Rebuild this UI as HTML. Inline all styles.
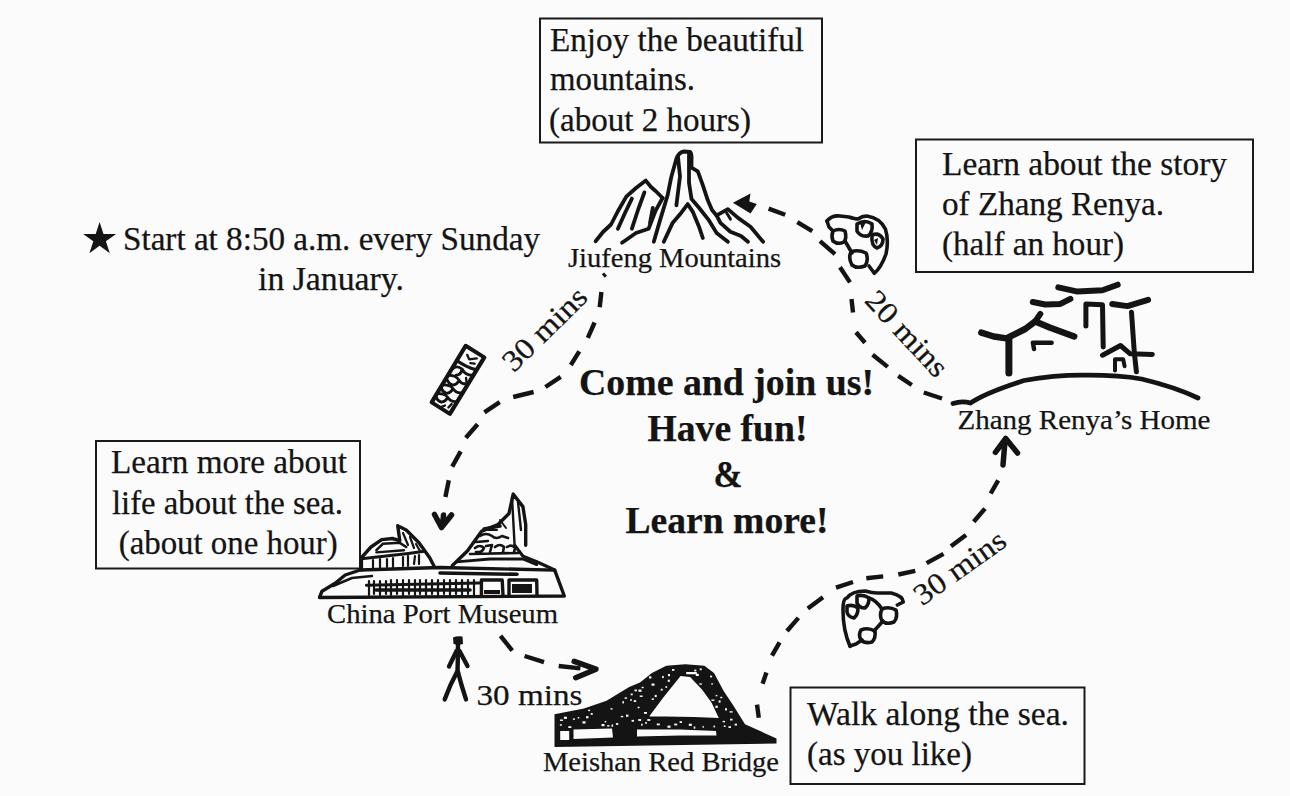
<!DOCTYPE html>
<html>
<head>
<meta charset="utf-8">
<style>
html,body{margin:0;padding:0;background:#fbfbfb;}
body{width:1290px;height:796px;overflow:hidden;position:relative;}
svg{position:absolute;left:0;top:0;display:block;}
text{font-family:"Liberation Serif",serif;fill:#141414;stroke:#141414;stroke-width:0.25;}
.t{font-size:33px;}
.l{font-size:28px;}
.b{font-size:37.5px;font-weight:bold;}
.box{fill:none;stroke:#1a1a1a;stroke-width:2;}
.ink{fill:none;stroke:#141414;stroke-width:3.2;stroke-linecap:round;stroke-linejoin:round;}
.dash{fill:none;stroke:#141414;stroke-width:4.4;stroke-linecap:butt;}
</style>
</head>
<body>
<svg width="1290" height="796" viewBox="0 0 1290 796">
<!-- Box 1 -->
<rect class="box" x="540" y="18.5" width="282" height="124"/>
<text class="t" x="550" y="51" textLength="254" lengthAdjust="spacingAndGlyphs">Enjoy the beautiful</text>
<text class="t" x="550" y="90" textLength="145" lengthAdjust="spacingAndGlyphs">mountains.</text>
<text class="t" x="549" y="131" textLength="202" lengthAdjust="spacingAndGlyphs">(about 2 hours)</text>

<!-- Box 2 -->
<rect class="box" x="916" y="139.5" width="337" height="132.5"/>
<text class="t" x="942" y="175" textLength="285" lengthAdjust="spacingAndGlyphs">Learn about the story</text>
<text class="t" x="942" y="215" textLength="222" lengthAdjust="spacingAndGlyphs">of Zhang Renya.</text>
<text class="t" x="942" y="255" textLength="182" lengthAdjust="spacingAndGlyphs">(half an hour)</text>

<!-- Start -->
<polygon fill="#141414" points="99.6,221.9 103.5,233.9 116.1,233.9 105.9,241.2 109.8,253.2 99.6,245.8 89.4,253.2 93.3,241.2 83.1,233.9 95.7,233.9"/>
<text class="t" x="123" y="250" textLength="417" lengthAdjust="spacingAndGlyphs">Start at 8:50 a.m. every Sunday</text>
<text class="t" x="258" y="290" textLength="146" lengthAdjust="spacingAndGlyphs">in January.</text>

<!-- Center -->
<text class="b" x="579" y="394.6" textLength="295" lengthAdjust="spacingAndGlyphs">Come and join us!</text>
<text class="b" x="647.5" y="440.8" textLength="160" lengthAdjust="spacingAndGlyphs">Have fun!</text>
<text class="b" x="713.5" y="486.8" textLength="29" lengthAdjust="spacingAndGlyphs">&amp;</text>
<text class="b" x="625.5" y="532.8" textLength="203" lengthAdjust="spacingAndGlyphs">Learn more!</text>

<!-- Labels -->
<text class="l" x="568" y="267" textLength="213" lengthAdjust="spacingAndGlyphs">Jiufeng Mountains</text>
<text class="l" x="957.5" y="429.3" textLength="253" lengthAdjust="spacingAndGlyphs">Zhang Renya’s Home</text>
<text class="l" x="327" y="623" textLength="231" lengthAdjust="spacingAndGlyphs">China Port Museum</text>
<text class="l" x="543" y="770.5" textLength="236" lengthAdjust="spacingAndGlyphs">Meishan Red Bridge</text>

<!-- Box 3 -->
<rect class="box" x="96" y="441" width="264" height="127.5"/>
<text class="t" x="111" y="472.7" textLength="236" lengthAdjust="spacingAndGlyphs">Learn more about</text>
<text class="t" x="112" y="514.3" textLength="231" lengthAdjust="spacingAndGlyphs">life about the sea.</text>
<text class="t" x="118.7" y="553.6" textLength="219" lengthAdjust="spacingAndGlyphs">(about one hour)</text>

<!-- Box 4 -->
<rect class="box" x="790.5" y="687.5" width="294" height="96.5"/>
<text class="t" x="807" y="724.5" textLength="262" lengthAdjust="spacingAndGlyphs">Walk along the sea.</text>
<text class="t" x="807" y="765" textLength="165" lengthAdjust="spacingAndGlyphs">(as you like)</text>

<!-- mins labels -->
<text class="l" x="476.5" y="705" textLength="106" lengthAdjust="spacingAndGlyphs" style="font-size:30px">30 mins</text>
<g transform="translate(544.5,329) rotate(-44.5)"><text class="l" x="-53" y="10" textLength="106" lengthAdjust="spacingAndGlyphs" style="font-size:30px">30 mins</text></g>
<g transform="translate(907,333.5) rotate(47)"><text class="l" x="-53" y="10" textLength="106" lengthAdjust="spacingAndGlyphs" style="font-size:30px">20 mins</text></g>
<g transform="translate(959.5,567.5) rotate(-35.5)"><text class="l" x="-53" y="10" textLength="106" lengthAdjust="spacingAndGlyphs" style="font-size:30px">30 mins</text></g>

<!-- DRAWINGS -->
<!-- Mountains -->
<g class="ink" style="stroke-width:3.8">
<path d="M595.6,241.3 L603,232 L611,224.5 L618,211 L626.3,196.6 L636,188 L645.8,180.6 L651,187 L655.6,191 L662.6,198"/>
<path d="M617.9,228.7 L625,213 L631.9,198.6"/>
<path d="M631.9,228.7 L638,210 L644.4,192.4"/>
<path d="M622,242.7 L636,233 L648.6,228.7 L655.6,210.6 L662.6,198"/>
<path d="M650,223 L652.8,207.8"/>
<path d="M653.8,241.8 L660,220.4 L667.6,195.3 L671.4,176.4 L676.4,158.8 Q679,152 684,151.5 L690.2,151.9 Q692,154 691.5,160 L691.5,167.6 L697.8,171.4 L702.8,185.2 L707.8,200.3 L712,210 L716.6,215.4"/>
<path d="M678,157 L680,176.4 L676.4,205.3"/>
<path d="M689,153 L689,182.7 L691.5,199 L699,207.8 L709,220.4 L716.6,233 L727.9,241.8"/>
<path d="M663.8,241.8 L672.6,222.9 L680.2,214.1 L687.7,204.1 L692.7,211.6 L699,226.7 L702.8,238"/>
<path d="M716.6,215.4 L727.9,209.1 L738,217.9 L750.5,226.7 L763.1,241.8"/>
<path d="M716.6,215.4 L720.4,222.9 L730.4,231.7 L741,236 L748,241.8"/>
<path d="M726.7,212.9 L730.4,219.1" style="stroke-width:3"/>
</g>
<polygon fill="#141414" points="732.9,202.8 750.5,193.5 749.3,201.5 756.8,204.1 750.5,213.5"/>

<!-- Zhang Renya's Home -->
<g class="ink">
<path d="M953,403.5 Q962,400.5 970.5,403 Q985,393 1024,380.5 Q1055,375 1084.5,375.2 Q1119,375 1141.6,379 Q1175,387 1198,398" style="stroke-width:4.8"/>
<path d="M1058.3,287.4 L1077.6,291.6 L1102.5,290.2 L1117.7,284.7" style="stroke-width:6"/>
<path d="M1032.8,302 L1045.3,304.5 L1060.4,303.9 L1070.4,298.8" style="stroke-width:6"/>
<path d="M1112.2,304 L1127.4,306.1 L1148.1,299.9" style="stroke-width:6"/>
<path d="M981.3,332.7 L993.8,336.5 L1006.4,338.4 L1025.2,329 L1035.3,321.4 L1050.3,327.7 L1074.2,336.5" style="stroke-width:6.5"/>
<path d="M1035.3,321.4 L1040.3,313.9" style="stroke-width:6"/>
<path d="M1008.9,339 L1008.9,372.9" style="stroke-width:7"/>
<path d="M1032.8,342.8 L1051.6,342.8 M1033,343 L1034,349" style="stroke-width:4.5"/>
<path d="M1085.9,326.1 L1085.9,304 L1102.5,304.7 L1103.2,346.9" style="stroke-width:5"/>
<path d="M1131.5,312.3 L1134.3,352.4 L1136.4,371.7" style="stroke-width:5"/>
<path d="M1102.5,355.2 L1120.5,345.5 L1130.2,353.8 L1152.3,354.5" style="stroke-width:5"/>
<path d="M1115,370.4 L1115,359.3 L1123.2,359.3 L1124.6,366.2" style="stroke-width:4"/>
</g>

<!-- China Port Museum -->
<g class="ink" style="stroke-width:3.4">
<path d="M319.5,597.5 L322,591.2 L335.2,583.2 L345.2,575 L360.3,570 L440,567.5 L554.7,570.1 L564.3,596 L319.5,597.5 Z"/>
<path d="M333,586 L352,578 L372,576" style="stroke-width:2.5"/>
<path d="M361.4,570 L361.4,557.7 L371,547 L381.7,539.6 L392.4,538.5 L399.8,540.6 L397.7,525.7 L406.2,530 L419,542.8 L429.7,557.7 L434,566"/>
<path d="M361.4,558.8 L408.4,553.4 L424.4,551.3" style="stroke-width:3"/>
<path d="M376.4,550.2 L382.8,543.8 L399.8,542.8 L406.2,547" style="stroke-width:2.6"/>
<path d="M376.4,552.4 L404,550.2" style="stroke-width:2.4"/>
<path d="M403,533 L408,545 M410,537 L414,548 M416,544 L420,551" style="stroke-width:2.2"/>
<path d="M373,560 L373,568 M380,559 L380,568 M387,559 L387,567 M393,558 L393,567 M403,557 L403,566 M408,556 L408,566 M415,556 L414,564 M419,555 L419,564" style="stroke-width:2.2"/>
<path d="M452.4,565.5 L467.6,550.8 L481.4,531.4 L498,524.5 L509,513.5 L513.2,494.1 L522.9,506.6 L525.7,524.5 L525.7,545.3"/>
<path d="M512,497 L514.6,545.3 M518,502 L521,530" style="stroke-width:2.4"/>
<path d="M514.6,545.3 L523,556.3 L536.7,561.8 L554.7,570" style="stroke-width:3.2"/>
<path d="M456.6,561.8 L490,559 L522.9,559 L536.7,564.6" style="stroke-width:2.8"/>
<path d="M480,536 Q486,532 492,536 Q496,540 502,536 L508,538 M476,542 L488,541 M475,548 Q480,544 484,548 Q482,553 476,552 M486,546 L492,545 L490,552 M495,547 Q500,543 504,547 L503,552 M507,547 Q512,544 515,548 L514,552 M470,554 L518,553" style="stroke-width:2.6"/>
<path d="M484,529 L500,526" style="stroke-width:3.6"/>
<path d="M488,530 L497,530 M500,520 L506,528" style="stroke-width:2"/>
<path d="M440,573 L517,574.3" style="stroke-width:3.6"/>
<path d="M366.4,585.2 L479,583" style="stroke-width:3"/>
<path d="M369,581 L369,595 M374,581 L374,594 M380,581 L380,595 M386,581 L386,594 M391,580 L391,595 M397,580 L397,594 M403,580 L403,595 M409,580 L409,594 M415,580 L415,595 M420,580 L420,594 M426,580 L426,595 M432,580 L432,594 M438,580 L438,595 M444,580 L444,594 M450,580 L450,595 M456,580 L456,594 M462,580 L462,595 M468,580 L468,594 M474,580 L474,595" style="stroke-width:2.2"/>
<path d="M376,590 L470,590" style="stroke-width:3.6"/>
<path d="M481.4,595 L481.4,580 L502.2,580 L503,595 M509,595 L509,580 L536.7,580 L537,595" style="stroke-width:3.4"/>
</g>
<rect x="512" y="584" width="20" height="9" fill="#141414"/>
<rect x="484" y="590" width="16" height="4" fill="#141414"/>
<!-- Meishan Red Bridge -->
<path fill="#141414" d="M554.5,714.3 L584,708.6 L606.5,700.7 L629.2,687.1 L640,682.4 L651.9,672.9 L666.3,665.7 L685.3,664.3 L704.4,665.7 L714,672.9 L723.5,690.8 L733,705.1 L745,724.2 L776.5,738.5 L776.5,743.5 L554.5,747 Z"/>
<path fill="#fbfbfb" d="M649.5,716 L663.9,696.8 L680.6,676 L690.1,677 L702,689.6 L711.6,702.7 L718.8,718 Q690,716 650,716.5 Z"/>
<g fill="#fbfbfb">
<path d="M573.5,729.5 L612,728.5 L613,737.5 L573.5,739 Z"/>
<path d="M637,729.5 L680,729.5 L716,731 L716.5,735.5 L680,735.5 L637,736.5 Z"/>
<rect x="560.2" y="731" width="9" height="9"/>
<rect x="686" y="672" width="11" height="2.2" rx="1"/>
<rect x="694.3" y="669.6" width="2.0" height="1.8"/><rect x="688.8" y="723.7" width="3.0" height="2.2"/><rect x="620.8" y="715.9" width="2.4" height="1.4"/><rect x="672.0" y="669.0" width="2.4" height="1.8"/><rect x="622.4" y="701.2" width="1.6" height="2.2"/><rect x="651.5" y="683.5" width="3.0" height="2.2"/><rect x="725.0" y="708.2" width="2.0" height="2.2"/><rect x="711.3" y="683.2" width="1.6" height="1.4"/><rect x="644.0" y="712.0" width="3.0" height="1.8"/><rect x="718.6" y="700.4" width="2.0" height="2.2"/><rect x="734.6" y="723.7" width="2.4" height="1.8"/><rect x="693.7" y="726.5" width="1.6" height="2.2"/><rect x="637.6" y="706.8" width="2.0" height="1.4"/><rect x="638.2" y="719.1" width="3.0" height="1.8"/><rect x="730.1" y="718.7" width="2.4" height="1.8"/><rect x="631.6" y="719.9" width="2.4" height="1.8"/><rect x="633.8" y="700.2" width="2.4" height="1.8"/><rect x="699.7" y="668.4" width="2.0" height="1.8"/><rect x="638.5" y="689.6" width="3.0" height="2.2"/><rect x="560.0" y="719.5" width="3.0" height="1.4"/><rect x="654.7" y="694.9" width="2.0" height="2.2"/><rect x="559.9" y="724.3" width="2.0" height="1.4"/><rect x="668.0" y="674.0" width="2.0" height="2.2"/><rect x="667.5" y="725.6" width="3.0" height="2.2"/><rect x="590.7" y="713.0" width="2.0" height="1.8"/><rect x="728.5" y="726.2" width="2.4" height="1.8"/><rect x="729.6" y="711.2" width="3.0" height="1.4"/><rect x="610.5" y="708.2" width="2.0" height="1.4"/><rect x="715.7" y="694.9" width="1.6" height="1.4"/><rect x="626.0" y="714.6" width="2.4" height="2.2"/><rect x="641.1" y="723.8" width="1.6" height="1.8"/><rect x="710.1" y="675.6" width="2.0" height="1.8"/><rect x="586.1" y="716.1" width="2.4" height="2.2"/><rect x="630.0" y="699.3" width="2.0" height="1.4"/><rect x="647.3" y="719.1" width="3.0" height="1.8"/><rect x="582.5" y="721.3" width="3.0" height="2.2"/><rect x="630.7" y="693.5" width="2.0" height="1.8"/><rect x="679.6" y="721.2" width="2.4" height="1.8"/><rect x="645.2" y="722.0" width="1.6" height="1.8"/><rect x="649.0" y="676.3" width="2.4" height="2.2"/><rect x="624.6" y="697.4" width="2.4" height="1.4"/><rect x="720.3" y="696.8" width="2.0" height="1.4"/><rect x="651.6" y="698.4" width="2.4" height="1.4"/><rect x="656.8" y="723.5" width="3.0" height="1.8"/><rect x="674.2" y="723.6" width="3.0" height="1.8"/><rect x="722.6" y="720.9" width="2.4" height="1.4"/><rect x="588.1" y="709.7" width="2.0" height="1.4"/><rect x="695.8" y="673.8" width="3.0" height="2.2"/><rect x="601.5" y="724.0" width="3.0" height="2.2"/><rect x="639.7" y="695.5" width="3.0" height="1.4"/><rect x="665.5" y="686.1" width="1.6" height="1.8"/><rect x="568.3" y="726.2" width="3.0" height="1.8"/><rect x="723.7" y="725.5" width="2.0" height="1.4"/><rect x="572.9" y="718.4" width="2.0" height="1.4"/><rect x="667.8" y="679.7" width="2.0" height="2.2"/><rect x="662.2" y="675.9" width="1.6" height="2.2"/><rect x="711.4" y="699.5" width="3.0" height="1.4"/><rect x="702.4" y="726.2" width="1.6" height="1.4"/><rect x="641.6" y="686.8" width="2.0" height="1.4"/><rect x="611.5" y="724.5" width="1.6" height="2.2"/><rect x="607.1" y="725.2" width="2.4" height="1.4"/><rect x="715.4" y="705.7" width="2.4" height="2.2"/><rect x="563.9" y="716.7" width="3.0" height="2.2"/><rect x="577.7" y="717.1" width="1.6" height="1.4"/><rect x="713.5" y="725.6" width="1.6" height="1.8"/><rect x="660.7" y="688.8" width="2.0" height="1.8"/><rect x="699.4" y="683.3" width="2.4" height="1.4"/><rect x="604.7" y="721.0" width="1.6" height="1.4"/><rect x="634.5" y="689.5" width="2.4" height="1.8"/><rect x="615.9" y="723.1" width="2.4" height="1.8"/>
</g>
<!-- Walking man -->
<path d="M453,637.5 Q457,635.5 462.5,636.5 L463,644 Q458,645.5 453.5,644 Z" fill="#141414"/>
<g class="ink" style="stroke-width:4.4">
<path d="M458,643.6 L457.8,660 L457.5,672"/>
<path d="M456.5,651 L449,666.5 M459.5,651 L467.5,666"/>
<path d="M457,672 L450.5,685 L444.7,699.4 M458,672 L461.5,685 L466,699.4"/>
</g>
<!-- Bus -->
<g transform="translate(458.1,379.7) rotate(121) scale(0.93,1)" fill="none" stroke="#141414" stroke-linejoin="round" stroke-linecap="round">
<path d="M-35,-11 L36,-10.5 L35.5,11 L-35.5,11 Z" stroke-width="4.2"/>
<path d="M-19,-10 Q-16,0 -17,11" stroke-width="3.6"/>
<path d="M-30,-5 L-25,1 L-28,5 M-24,-6 L-22,-2" stroke-width="2.4"/>
<path d="M-12,-10 Q-8,-4 -12,2 Q-13,8 -8,10 M-12,2 Q-6,0 -3,4" stroke-width="3"/>
<path d="M-2,-10 Q3,-6 0,-1 Q-3,4 1,10 M0,-1 Q5,-2 8,2 Q9,6 6,10" stroke-width="3"/>
<path d="M10,-10 Q14,-5 11,0 Q9,4 13,10 M11,0 Q16,-1 19,3 Q20,7 17,10" stroke-width="3"/>
<path d="M21,-10 Q25,-5 22,0 Q20,4 24,10 M22,0 Q27,-1 30,3 Q31,7 28,10" stroke-width="3"/>
<path d="M-6,-6 L-3,-8 M26,-7 L31,-6 M31,-2 L34,0" stroke-width="2.4"/>
</g>
<!-- Flower 1 -->
<g class="ink" style="stroke-width:3.6">
<path d="M827,221 Q832,215 840,216 L849,217 Q855,219 858,219 Q862,216 867,216 Q880,218 885.4,229 Q889,240 886,254 Q881,268 874.3,273.3 L869,266"/>
<path d="M827,221 L829,227 L832,230"/>
<path d="M833,231 Q839,228 845,231 Q847,238 844,242 Q838,245 833,241 Q831,236 833,231 Z"/>
<path d="M851,252 Q858,249 866,253 Q869,260 865,266 Q857,269 852,265 Q848,258 851,252 Z"/>
<path d="M857,224 Q865,219 872,224 Q873,232 868,236 Q860,237 857,231 Z"/>
<path d="M872,235 Q879,232 883,239 Q883,246 877,248 Q871,246 872,235 Z"/>
<path d="M845,241 L852,253"/>
</g>
<path d="M860,223 L866,222 L862,230 Z M874,240 L878,238 L877,245 Z" fill="#141414"/>

<!-- Flower 2 -->
<g class="ink" style="stroke-width:3.6">
<path d="M850,646.3 Q843,630 843,610.2 Q843,598 847,598 Q852,591 865.2,591 Q872,593 877.2,593 L891.3,593 Q903,596 903.3,602 L897.3,605"/>
<path d="M882,609 Q889,606 896,610 Q898,617 894,622 Q887,625 882,621 Q879,615 882,609 Z"/>
<path d="M861,630 Q868,627 875,631 Q876,638 872,642 Q865,644 861,640 Q858,635 861,630 Z"/>
<path d="M857,596 Q863,594 869,598 Q869,605 865,608 Q859,608 857,603 Z"/>
<path d="M847,606 Q853,604 858,608 Q858,615 854,618 Q848,617 847,612 Z"/>
<path d="M850,646 L856,644 L862,640 M883,621 L874,631 M869,598 Q876,600 882,609"/>
</g>
<!-- Dashes -->
<g class="dash">
<path d="M603,273.4 L605.8,276.8" style="stroke-width:3"/>
<path d="M601.4,292 L599.7,307.3"/>
<path d="M594.6,322.5 L587.8,337.8"/>
<path d="M579.3,351.4 L570.8,365"/>
<path d="M560.7,376.8 L545.4,387"/>
<path d="M533.6,392 L513.2,397"/>
<path d="M499.7,402.2 L484.4,412.4"/>
<path d="M477.6,424.2 L465.8,437.8"/>
<path d="M460.7,451.4 L452.2,466.6"/>
<path d="M448.8,480.2 L445.4,497"/>

<path d="M500.5,635.9 L512.2,650.6"/>
<path d="M524.6,656 L544,662.2"/>
<path d="M558.7,666 L580.4,668.4"/>

<path d="M757,704.6 L758.8,717.8"/>
<path d="M762.6,683.8 L766.4,672.5"/>
<path d="M772,655.6 L779.6,642.4"/>
<path d="M787,631 L798.4,617.9"/>
<path d="M807.8,608.5 L823,597.2"/>
<path d="M836,587.7 L853,582"/>
<path d="M866.3,578.3 L883.2,576.4"/>
<path d="M898.3,574.5 L915.3,570.8"/>
<path d="M926.6,563.2 L943.5,553.8"/>
<path d="M951,546.3 L966,535"/>
<path d="M973.7,521.8 L985,508.6"/>
<path d="M990.7,493.5 L998.2,480.3"/>

<path d="M768.6,208.6 L785.2,214.7"/>
<path d="M797.3,222.2 L812.3,231.2"/>
<path d="M820,241.2 L835,254.2"/>
<path d="M840,267.3 L850,282.4"/>
<path d="M851.5,299 L853,312.6"/>
<path d="M856,332.2 L865,342.7"/>
<path d="M872.6,354.8 L887.7,366.9"/>
<path d="M898.2,375.9 L911.8,385"/>
<path d="M923.8,392.5 L942,398.5"/>
</g>
<g class="ink" style="stroke-width:5.5">
<path d="M434.5,514.5 L441.5,527.5 L451.5,515 M443.5,515 L443,521"/>
<path d="M574.2,661.4 L595.9,669.2 L575.7,677.7"/>
<path d="M995.4,452.3 L1005.7,438.5 L1017.5,453 M1005,441 L1003,465"/>
</g>

</svg>
</body>
</html>
